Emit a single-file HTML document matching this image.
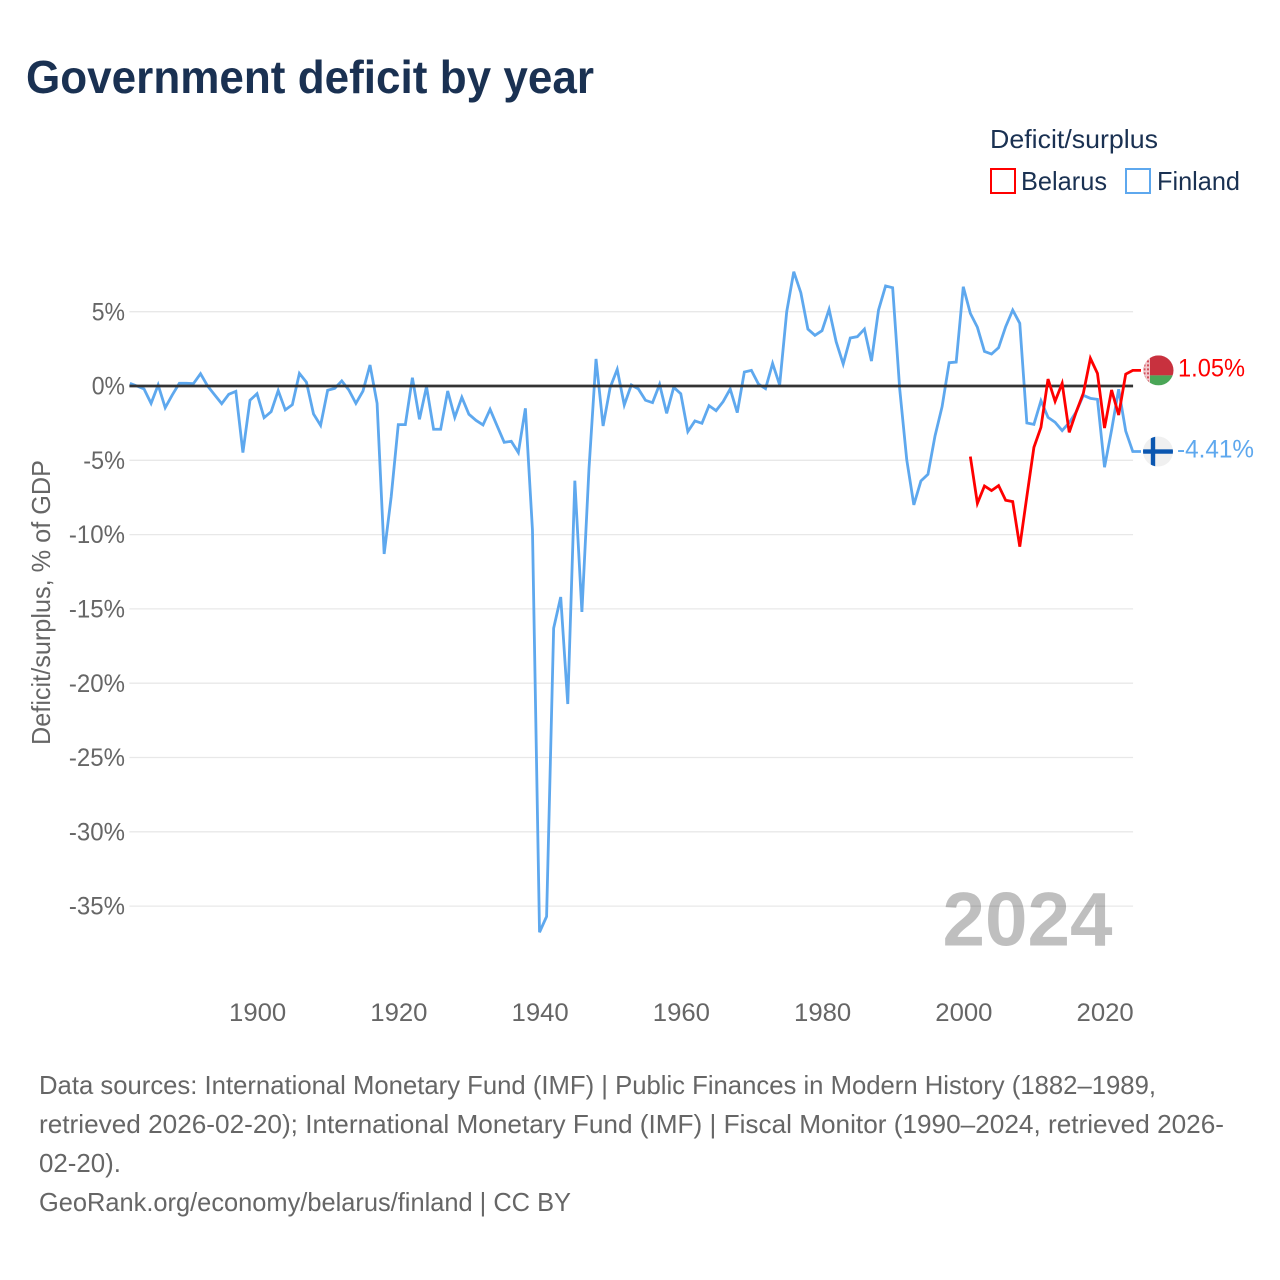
<!DOCTYPE html>
<html lang="en">
<head>
<meta charset="utf-8">
<title>Government deficit by year</title>
<style>
html,body{margin:0;padding:0;background:#fff;width:1280px;height:1280px;overflow:hidden}
svg{display:block}
text{font-family:"Liberation Sans",sans-serif}
</style>
</head>
<body>
<svg id="chart" width="1280" height="1280" viewBox="0 0 1280 1280" xmlns="http://www.w3.org/2000/svg">
  <defs>
    <clipPath id="belarus-clip"><circle cx="0" cy="0" r="15"/></clipPath>
    <clipPath id="finland-clip"><circle cx="0" cy="0" r="15"/></clipPath>
  </defs>
  <rect width="1280" height="1280" fill="#fff"/>
  <text x="26" y="93" font-size="46" font-weight="700" fill="#1a3152" textLength="568" lengthAdjust="spacingAndGlyphs">Government deficit by year</text>

  <g>
    <text x="990" y="148" font-size="26" fill="#1a3152" textLength="168" lengthAdjust="spacingAndGlyphs">Deficit/surplus</text>
    <g>
      <rect x="991" y="169" width="24" height="24" fill="#fff" stroke="#ff0000" stroke-width="2"/>
      <text x="1021" y="190" font-size="26" fill="#1a3152" textLength="86" lengthAdjust="spacingAndGlyphs">Belarus</text>
    </g>
    <g>
      <rect x="1126" y="169" width="24" height="24" fill="#fff" stroke="#5ea8ee" stroke-width="2"/>
      <text x="1157" y="190" font-size="26" fill="#1a3152" textLength="83" lengthAdjust="spacingAndGlyphs">Finland</text>
    </g>
  </g>

  <g id="grid"></g>
  <g id="yticks"></g>
  <g id="xticks"></g>
  <text transform="translate(50,745) rotate(-90)" font-size="26" fill="#666" textLength="285" lengthAdjust="spacingAndGlyphs">Deficit/surplus, % of GDP</text>
  <text x="942.5" y="945.5" font-size="76" font-weight="700" fill="#000" fill-opacity="0.25" textLength="170" lengthAdjust="spacingAndGlyphs">2024</text>
  <g id="series"></g>

  <g id="flag-belarus">
    <g clip-path="url(#belarus-clip)">
      <rect x="-15" y="-15" width="30" height="20" fill="#c8313e"/>
      <rect x="-15" y="5" width="30" height="10" fill="#4aa657"/>
      <rect x="-15" y="-15" width="6.5" height="30" fill="#f3c9cd"/>
      <path d="M-15-13h6.5M-15-9h6.5M-15-5h6.5M-15-1h6.5M-15 3h6.5M-15 7h6.5M-15 11h6.5" stroke="#d0505c" stroke-width="2" stroke-dasharray="2 1.5"/>
    </g>
  </g>
  <g id="flag-finland">
    <g clip-path="url(#finland-clip)">
      <rect x="-15" y="-15" width="30" height="30" fill="#f0f0f0"/>
      <rect x="-15" y="-2.2" width="30" height="4.4" fill="#0a56b0"/>
      <rect x="-7.2" y="-15" width="4.4" height="30" fill="#0a56b0"/>
    </g>
  </g>
  <text id="label-belarus" x="1178" font-size="25" fill="#ff0000" textLength="67" lengthAdjust="spacingAndGlyphs"></text>
  <text id="label-finland" x="1177" font-size="25" fill="#5ea8ee" textLength="77" lengthAdjust="spacingAndGlyphs"></text>

  <g font-size="26" fill="#666">
    <text x="39" y="1094" textLength="1117" lengthAdjust="spacingAndGlyphs">Data sources: International Monetary Fund (IMF) | Public Finances in Modern History (1882–1989,</text>
    <text x="39" y="1133" textLength="1185" lengthAdjust="spacingAndGlyphs">retrieved 2026-02-20); International Monetary Fund (IMF) | Fiscal Monitor (1990–2024, retrieved 2026-</text>
    <text x="39" y="1172" textLength="82" lengthAdjust="spacingAndGlyphs">02-20).</text>
    <text x="39" y="1211" textLength="532" lengthAdjust="spacingAndGlyphs">GeoRank.org/economy/belarus/finland | CC BY</text>
  </g>
</svg>
<script>
const yTickValues = [5, 0, -5, -10, -15, -20, -25, -30, -35];
const xTickValues = [1900, 1920, 1940, 1960, 1980, 2000, 2020];

const finlandYears = [1882,1883,1884,1885,1886,1887,1888,1889,1890,1891,1892,1893,1894,1895,1896,1897,1898,1899,
1900,1901,1902,1903,1904,1905,1906,1907,1908,1909,1910,1911,1912,1913,1914,1915,1916,1917,1918,1919,
1920,1921,1922,1923,1924,1925,1926,1927,1928,1929,1930,1931,1932,1933,1934,1935,1936,1937,1938,1939,
1940,1941,1942,1943,1944,1945,1946,1947,1948,1949,1950,1951,1952,1953,1954,1955,1956,1957,1958,1959,
1960,1961,1962,1963,1964,1965,1966,1967,1968,1969,1970,1971,1972,1973,1974,1975,1976,1977,1978,1979,
1980,1981,1982,1983,1984,1985,1986,1987,1988,1989,1990,1991,1992,1993,1994,1995,1996,1997,1998,1999,
2000,2001,2002,2003,2004,2005,2006,2007,2008,2009,2010,2011,2012,2013,2014,2015,2016,2017,2018,2019,
2020,2021,2022,2023,2024];
const finlandValues = [0.18,0.0,-0.2,-1.17,0.07,-1.46,-0.6,0.18,0.18,0.16,0.83,0.0,-0.6,-1.19,-0.56,-0.36,-4.48,-0.96,
-0.52,-2.13,-1.73,-0.31,-1.61,-1.26,0.85,0.25,-1.88,-2.65,-0.29,-0.16,0.34,-0.27,-1.17,-0.34,1.41,-1.17,-11.3,-7.44,
-2.6,-2.6,0.56,-2.24,-0.04,-2.91,-2.91,-0.34,-2.11,-0.76,-1.9,-2.31,-2.62,-1.57,-2.69,-3.79,-3.72,-4.48,-1.5,-9.69,
-36.76,-35.7,-16.3,-14.2,-21.4,-6.37,-15.2,-5.6,1.82,-2.69,-0.1,1.12,-1.28,0.07,-0.2,-0.96,-1.12,0.11,-1.84,-0.09,
-0.52,-3.07,-2.35,-2.51,-1.32,-1.66,-1.05,-0.2,-1.79,0.94,1.05,0.13,-0.18,1.52,0.07,5.0,7.69,6.28,3.83,3.41,
3.72,5.16,2.98,1.48,3.23,3.32,3.83,1.68,5.11,6.73,6.61,-0.2,-4.98,-8.0,-6.39,-5.94,-3.36,-1.39,1.57,1.61,
6.68,4.89,3.95,2.33,2.15,2.58,3.99,5.11,4.22,-2.49,-2.58,-0.99,-2.11,-2.44,-3.0,-2.47,-1.73,-0.63,-0.83,-0.9,
-5.47,-2.96,-0.22,-3.03,-4.41];

const belarusYears = [2001,2002,2003,2004,2005,2006,2007,2008,2009,2010,2011,2012,2013,2014,2015,2016,2017,2018,2019,2020,2021,2022,2023,2024];
const belarusValues = [-4.75,-7.9,-6.73,-7.04,-6.7,-7.69,-7.78,-10.81,-7.44,-4.13,-2.78,0.47,-1.03,0.18,-3.12,-1.73,-0.49,1.86,0.85,-2.83,-0.27,-1.95,0.8,1.05];

const X0 = 129.9, PX_PER_YEAR = 7.0625, BASE_YEAR = 1882;
const Y0 = 386, PX_PER_PCT = 14.86;
function xScale(year) { return X0 + (year - BASE_YEAR) * PX_PER_YEAR; }
function yScale(value) { return Y0 - value * PX_PER_PCT; }

const NS = 'http://www.w3.org/2000/svg';
const gridG = document.getElementById('grid');
const yTickG = document.getElementById('yticks');
const xTickG = document.getElementById('xticks');
const seriesG = document.getElementById('series');
const plotLeft = xScale(1882) - 0.5;
const plotRight = xScale(2024) + 0.3;

function labelWidth(str) {
  let w = 0;
  for (const ch of str) { w += ch === '%' ? 19 : ch === '-' ? 8.5 : 14.3; }
  return w;
}

yTickValues.forEach(function (v) {
  const line = document.createElementNS(NS, 'line');
  
  
  line.setAttribute('x1', plotLeft);
  line.setAttribute('x2', plotRight);
  line.setAttribute('y1', yScale(v));
  line.setAttribute('y2', yScale(v));
  line.setAttribute('stroke', '#e8e8e8');
  line.setAttribute('stroke-width', '1.3');
  gridG.appendChild(line);

  const t = document.createElementNS(NS, 'text');
  
  
  t.setAttribute('x', 125);
  t.setAttribute('y', yScale(v) + 8.6);
  t.setAttribute('text-anchor', 'end');
  t.setAttribute('font-size', '25');
  t.setAttribute('fill', '#666');
  t.setAttribute('textLength', labelWidth(v + '%'));
  t.setAttribute('lengthAdjust', 'spacingAndGlyphs');
  t.textContent = v + '%';
  yTickG.appendChild(t);
});

xTickValues.forEach(function (yr) {
  const t = document.createElementNS(NS, 'text');
  
  
  t.setAttribute('x', xScale(yr) - 28);
  t.setAttribute('y', 1021);
  t.setAttribute('font-size', '25');
  t.setAttribute('fill', '#666');
  t.setAttribute('textLength', '57.2');
  t.setAttribute('lengthAdjust', 'spacingAndGlyphs');
  t.textContent = String(yr);
  xTickG.appendChild(t);
});

function seriesPoints(years, values, connectorX) {
  const pts = years.map(function (yr, i) { return xScale(yr).toFixed(2) + ',' + yScale(values[i]).toFixed(2); });
  pts.push(connectorX + ',' + yScale(values[values.length - 1]).toFixed(2));
  return pts.join(' ');
}

const blueLine = document.createElementNS(NS, 'polyline');


blueLine.setAttribute('points', seriesPoints(finlandYears, finlandValues, 1141));
blueLine.setAttribute('fill', 'none');
blueLine.setAttribute('stroke', '#5ea8ee');
blueLine.setAttribute('stroke-width', '2.8');
blueLine.setAttribute('stroke-linejoin', 'miter');
seriesG.appendChild(blueLine);

const zeroLine = document.createElementNS(NS, 'line');


zeroLine.setAttribute('x1', plotLeft);
zeroLine.setAttribute('x2', plotRight);
zeroLine.setAttribute('y1', yScale(0));
zeroLine.setAttribute('y2', yScale(0));
zeroLine.setAttribute('stroke', '#333');
zeroLine.setAttribute('stroke-width', '2.8');
seriesG.appendChild(zeroLine);

const redLine = document.createElementNS(NS, 'polyline');


redLine.setAttribute('points', seriesPoints(belarusYears, belarusValues, 1141));
redLine.setAttribute('fill', 'none');
redLine.setAttribute('stroke', '#ff0000');
redLine.setAttribute('stroke-width', '2.8');
redLine.setAttribute('stroke-linejoin', 'miter');
seriesG.appendChild(redLine);

const lastBelarus = belarusValues[belarusValues.length - 1];
const lastFinland = finlandValues[finlandValues.length - 1];
document.getElementById('flag-belarus').setAttribute('transform', 'translate(1158.5,' + yScale(lastBelarus) + ')');
document.getElementById('flag-finland').setAttribute('transform', 'translate(1158,' + yScale(lastFinland) + ')');
const labelB = document.getElementById('label-belarus');
labelB.setAttribute('y', yScale(lastBelarus) + 6);
labelB.textContent = lastBelarus.toFixed(2) + '%';
const labelF = document.getElementById('label-finland');
labelF.setAttribute('y', yScale(lastFinland) + 6);
labelF.textContent = lastFinland.toFixed(2) + '%';
</script>
</body>
</html>
